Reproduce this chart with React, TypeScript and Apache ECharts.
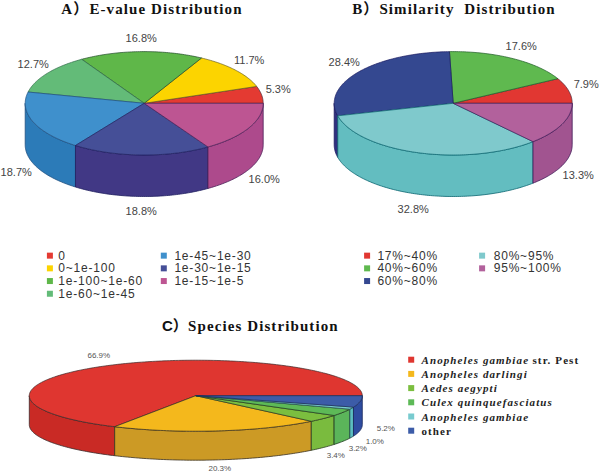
import React, { useEffect, useRef } from "react";
import * as echarts from "echarts";

// ---- data ----
const evalueNames = ["0", "0~1e-100", "1e-100~1e-60", "1e-60~1e-45", "1e-45~1e-30", "1e-30~1e-15", "1e-15~1e-5"];
const evalueValues = [5.3, 11.7, 16.8, 12.7, 18.7, 18.8, 16.0];
const similarityNames = ["17%~40%", "40%~60%", "60%~80%", "80%~95%", "95%~100%"];
const similarityValues = [7.9, 17.6, 28.4, 32.8, 13.3];
const speciesNames = ["Anopheles gambiae str. Pest", "Anopheles darlingi", "Aedes aegypti", "Culex quinquefasciatus", "Anopheles gambiae", "other"];
const speciesValues = [66.9, 20.3, 3.4, 3.2, 1.0, 5.2];

// ---- styles ----
const evalueTop = ["#e43a32", "#fcd400", "#5fb749", "#63bb78", "#3f90cc", "#454f97", "#bd5592"];
const evalueWall = ["#c92f28", "#dcb800", "#4fa03c", "#53a566", "#2c7bb8", "#413885", "#ad4a8c"];
const evalueEdge = ["#4a2a3a", "#6a6020", "#1f4a28", "#2f6a48", "#1f4f80", "#1f1f60", "#4a2058"];
const similarityTop = ["#e13732", "#5fb94f", "#344890", "#7fc9cc", "#b2619c"];
const similarityWall = ["#c92f28", "#4fa03c", "#30307f", "#63bdc0", "#a15490"];
const similarityEdge = ["#4a2a3a", "#1f5a28", "#1a1a60", "#0a6570", "#401a58"];
const speciesTop = ["#df3630", "#f4b81c", "#7bbe3f", "#5db957", "#78cbcf", "#3c5ca8"];
const speciesWall = ["#c92a25", "#cc9a25", "#7abb3e", "#5bb55a", "#5cbec0", "#2e4ca0"];
const speciesEdge = ["#3a2a2a", "#3a3020", "#2a3a20", "#203a20", "#204a4a", "#1a2a5a"];

// label centres relative to the pie's centre (layout only)
const evalueLabelOffsets = [[134, -14], [105, -43], [-3, -65], [-111, -39], [-128, 69], [-3, 108], [120, 76]];
const similarityLabelOffsets = [[133, -19], [68, -57], [-109, -41], [-40, 106], [125, 72]];
const speciesLabelOffsets = [[-97, -40], [24, 73], [140, 60], [162, 53], [179, 46], [190, 33]];

type Pie = {
  names: string[]; values: number[]; top: string[]; wall: string[]; edge: string[];
  offsets: number[][]; cx: number; cy: number; rx: number; ry: number; depth: number;
  font: string; labelColor: string;
};

const pies: Pie[] = [
  { names: evalueNames, values: evalueValues, top: evalueTop, wall: evalueWall, edge: evalueEdge, offsets: evalueLabelOffsets,
    cx: 144.2, cy: 103.3, rx: 119, ry: 51.7, depth: 41.5, font: "11px 'Liberation Sans'", labelColor: "#444" },
  { names: similarityNames, values: similarityValues, top: similarityTop, wall: similarityWall, edge: similarityEdge, offsets: similarityLabelOffsets,
    cx: 453.2, cy: 103.3, rx: 119, ry: 51.7, depth: 41.5, font: "11px 'Liberation Sans'", labelColor: "#444" },
  { names: speciesNames, values: speciesValues, top: speciesTop, wall: speciesWall, edge: speciesEdge, offsets: speciesLabelOffsets,
    cx: 195.8, cy: 395.7, rx: 166.5, ry: 35.5, depth: 29, font: "8px 'Liberation Sans'", labelColor: "#555" },
];

function sliceSeries(p: Pie) {
  const total = p.values.reduce((a, b) => a + b, 0);
  let cum = 0;
  return p.values.map((v, i) => {
    const a0 = (cum / total) * 360;
    cum += v;
    const a1 = (cum / total) * 360;
    const at = (deg: number, drop = 0) => {
      const r = (deg * Math.PI) / 180;
      return [p.cx + p.rx * Math.cos(r), p.cy - p.ry * Math.sin(r) + drop];
    };
    return {
      type: "custom",
      name: p.names[i],
      coordinateSystem: "none",
      silent: true,
      itemStyle: { color: p.top[i], borderWidth: 0 },
      data: [[v]],
      renderItem: (_params: any, api: any) => {
        const value = api.value(0) as number;
        const children: any[] = [];
        const w0 = Math.max(a0, 180);
        if (a1 > w0) {
          const rim: number[][] = [];
          const low: number[][] = [];
          for (let d = w0; d < a1; d += 1) { rim.push(at(d)); low.unshift(at(d, p.depth)); }
          rim.push(at(a1)); low.unshift(at(a1, p.depth));
          children.push({
            type: "polygon",
            shape: { points: [...rim, ...low] },
            style: { fill: p.wall[i], stroke: p.edge[i], lineWidth: 0.8 },
          });
        }
        const pts: number[][] = [[p.cx, p.cy]];
        for (let d = a0; d < a1; d += 1) pts.push(at(d));
        pts.push(at(a1));
        children.push({
          type: "polygon",
          shape: { points: pts },
          style: { fill: p.top[i], stroke: p.edge[i], lineWidth: 0.7 },
        });
        children.push({
          type: "text",
          x: p.cx + p.offsets[i][0],
          y: p.cy + p.offsets[i][1],
          style: {
            text: value.toFixed(1) + "%",
            font: p.font,
            fill: p.labelColor,
            align: "center",
            verticalAlign: "middle",
          },
        });
        return { type: "group", children };
      },
    };
  });
}

const squareIcon = "path://M0 0H6V6H0Z";
const sansLegend = { fontFamily: "'Liberation Sans'", fontSize: 12, color: "#333", lineHeight: 12.7 };

function sansLegendBlock(data: string[], left: number, top: number, w: number) {
  return {
    data, left, top, orient: "vertical", padding: 0, itemGap: 0, itemWidth: w, itemHeight: 6,
    icon: squareIcon, selectedMode: false, textStyle: sansLegend,
  };
}

const serifBold = "'Liberation Serif', 'Noto Sans CJK SC'";
const titleSerif = { fontFamily: serifBold, fontWeight: "bold", fontSize: 15, color: "#111" };

const option: any = {
  animation: false,
  backgroundColor: "#fff",
  title: [
    { text: "A）E-value Distribution", left: 152, top: 1, textAlign: "center", padding: 0, textStyle: titleSerif },
    { text: "B）Similarity  Distribution", left: 454, top: 1, textAlign: "center", padding: 0, textStyle: titleSerif },
    { text: "C）", left: 162, top: 318, padding: 0,
      textStyle: { fontFamily: "'Liberation Sans', 'Noto Sans CJK SC'", fontWeight: "bold", fontSize: 15, color: "#111" } },
    { text: "Species Distribution", left: 188, top: 318, padding: 0, textStyle: titleSerif },
  ],
  legend: [
    sansLegendBlock(evalueNames.slice(0, 4), 46.9, 249.3, 6.8),
    sansLegendBlock(evalueNames.slice(4), 160.8, 249.3, 11.2),
    sansLegendBlock(similarityNames.slice(0, 3), 364.1, 249.3, 10.6),
    sansLegendBlock(similarityNames.slice(3), 479.1, 249.3, 13.2),
    {
      data: speciesNames, left: 408.2, top: 352.6, orient: "vertical", padding: 0, itemGap: 0,
      itemWidth: 10.6, itemHeight: 6, icon: squareIcon, selectedMode: false,
      formatter: (name: string) => {
        if (name === "other") return `{n|${name}}`;
        const m = name.match(/^(.*) (str\. Pest)$/);
        return m ? `{p|${m[1]}}{n|${m[2]}}` : `{i|${name}}`;
      },
      textStyle: {
        lineHeight: 14.2,
        rich: {
          i: { fontFamily: "'Liberation Serif'", fontStyle: "italic", fontWeight: "bold", fontSize: 11, color: "#222", lineHeight: 14.2 },
          p: { fontFamily: "'Liberation Serif'", fontStyle: "italic", fontWeight: "bold", fontSize: 11, color: "#222", lineHeight: 14.2, width: 111 },
          n: { fontFamily: "'Liberation Serif'", fontWeight: "bold", fontSize: 11, color: "#222", lineHeight: 14.2 },
        },
      },
    },
  ],
  series: pies.flatMap(sliceSeries),
};

const css = `
.pies text[style*="Liberation Serif"] { letter-spacing: 1.1px; }
.pies text[style*="12px"][style*="Liberation Sans"] { letter-spacing: 0.8px; }
`;

export default function App() {
  const ref = useRef<HTMLDivElement>(null);
  useEffect(() => {
    const chart = echarts.init(ref.current!, undefined, { renderer: "svg" });
    chart.setOption(option);
    return () => chart.dispose();
  }, []);
  return (
    <>
      <style>{css}</style>
      <div ref={ref} className="pies" style={{ position: "absolute", left: 0, top: 0, width: 600, height: 473 }} />
    </>
  );
}
